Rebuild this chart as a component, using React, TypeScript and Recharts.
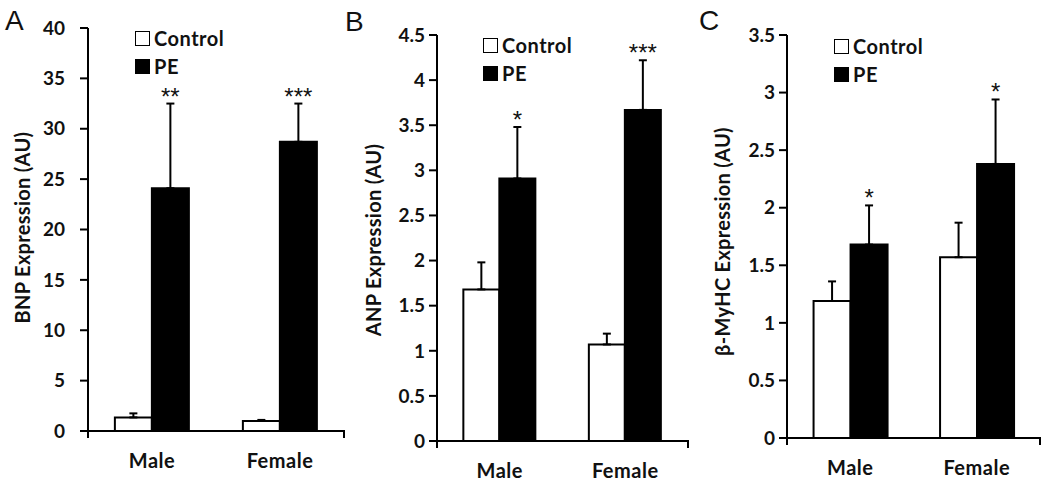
import React from "react";
import { BarChart, Bar, XAxis, YAxis, ErrorBar, LabelList, Legend, Label } from "recharts";

const categories = ["Male", "Female"];

// A: BNP
const bnpControl = [1.35, 1.0];
const bnpControlErr = [0.4, 0.1];
const bnpPE = [24.1, 28.7];
const bnpPEErr = [8.4, 3.8];
const bnpStars = ["**", "***"];
const bnpTicks = [0, 5, 10, 15, 20, 25, 30, 35, 40];

// B: ANP
const anpControl = [1.68, 1.07];
const anpControlErr = [0.3, 0.12];
const anpPE = [2.91, 3.67];
const anpPEErr = [0.57, 0.55];
const anpStars = ["*", "***"];
const anpTicks = [0, 0.5, 1, 1.5, 2, 2.5, 3, 3.5, 4, 4.5];

// C: beta-MyHC
const myhcControl = [1.19, 1.57];
const myhcControlErr = [0.17, 0.3];
const myhcPE = [1.68, 2.38];
const myhcPEErr = [0.34, 0.56];
const myhcStars = ["*", "*"];
const myhcTicks = [0, 0.5, 1, 1.5, 2, 2.5, 3, 3.5];

const FONT = "Lato, 'Open Sans', sans-serif";
const ARIAL = "'Liberation Sans', Arial, sans-serif";

function buildRows(ctl: number[], ctlErr: number[], pe: number[], peErr: number[], stars: string[]) {
  return categories.map((name, i) => ({
    name,
    control: ctl[i],
    controlErr: [0, ctlErr[i]],
    pe: pe[i],
    peErr: [0, peErr[i]],
    peErrVal: peErr[i],
    star: stars[i],
  }));
}

const CatTick = (props: any) => {
  const { x, y, payload, index, visibleTicksCount } = props;
  const off = payload?.offset ?? 0;
  return (
    <g>
      <text
        x={x}
        y={y + 37}
        textAnchor="middle"
        fontFamily={FONT}
        fontWeight={700}
        fontSize={20}
        letterSpacing={0.5}
        fill="#111"
      >
        {payload.value}
      </text>
      {index === 0 && <line x1={x - off} x2={x - off} y1={y - 1} y2={y + 7} stroke="#000" strokeWidth={2} />}
      {index === visibleTicksCount - 1 && (
        <line x1={x + off} x2={x + off} y1={y - 1} y2={y + 7} stroke="#000" strokeWidth={2} />
      )}
    </g>
  );
};

const LegendBox = (props: any) => {
  const items = props.payload || [];
  return (
    <div style={{ fontFamily: FONT, fontWeight: 700, fontSize: 20, letterSpacing: 0.5, color: "#111" }}>
      {items.map((it: any, i: number) => (
        <div key={i} style={{ display: "flex", alignItems: "center", height: 28 }}>
          <span
            style={{
              width: 13,
              height: 13,
              border: "1.5px solid #000",
              background: it.color,
              marginRight: 4,
              display: "inline-block",
            }}
          />
          <span>{it.value}</span>
        </div>
      ))}
    </div>
  );
};

type PanelProps = {
  left: number;
  margin: { top: number; right: number; bottom: number; left: number };
  domain: [number, number];
  ticks: number[];
  rows: ReturnType<typeof buildRows>;
  yLabel: string;
  labelDx: number;
  labelDy: number;
  tickMargin: number;
  legendLeft: number;
  legendTop: number;
};

function Panel(p: PanelProps) {
  const starContent = (lp: any) => {
    const { x, y, width, height, index } = lp;
    const row = p.rows[index];
    const pxPer = height / row.pe;
    const top = y - row.peErrVal * pxPer;
    return (
      <text x={x + width / 2} y={top + 1} textAnchor="middle" fontFamily={ARIAL} fontSize={24} fill="#111">
        {row.star}
      </text>
    );
  };
  return (
    <div style={{ position: "absolute", left: p.left, top: 0 }}>
      <BarChart
        width={350}
        height={490}
        data={p.rows}
        margin={p.margin}
        barCategoryGap="21%"
        barGap={0}
      >
        <XAxis
          dataKey="name"
          height={40}
          axisLine={{ stroke: "#000", strokeWidth: 2 }}
          tickLine={false}
          tickSize={0}
          tickMargin={0}
          tick={<CatTick />}
          interval={0}
        />
        <YAxis
          width={60}
          domain={p.domain}
          ticks={p.ticks}
          interval={0}
          allowDataOverflow
          axisLine={{ stroke: "#000", strokeWidth: 2 }}
          tickLine={{ stroke: "#000", strokeWidth: 2 }}
          tickSize={8}
          tickMargin={p.tickMargin}
          tick={{ fontFamily: FONT, fontWeight: 700, fontSize: 19, fill: "#111" }}
        >
          <Label
            content={(lp: any) => {
              const vb = lp.viewBox;
              const cx = vb.x + vb.width + p.labelDx;
              const cy = vb.y + vb.height / 2 + p.labelDy;
              return (
                <text
                  x={cx}
                  y={cy}
                  transform={`rotate(-90, ${cx}, ${cy})`}
                  textAnchor="middle"
                  dominantBaseline="central"
                  fontFamily={FONT}
                  fontWeight={700}
                  fontSize={20}
                  letterSpacing={0.3}
                  fill="#111"
                >
                  {p.yLabel}
                </text>
              );
            }}
          />
        </YAxis>
        <Legend
          layout="vertical"
          align="center"
          verticalAlign="middle"
          content={<LegendBox />}
          wrapperStyle={{ left: p.legendLeft, top: p.legendTop, width: "auto" }}
        />
        <Bar dataKey="control" name="Control" fill="#fff" stroke="#000" strokeWidth={2} isAnimationActive={false}>
          <ErrorBar dataKey="controlErr" direction="y" width={4} stroke="#000" strokeWidth={2} />
        </Bar>
        <Bar dataKey="pe" name="PE" fill="#000" stroke="#000" strokeWidth={2} isAnimationActive={false}>
          <ErrorBar dataKey="peErr" direction="y" width={4} stroke="#000" strokeWidth={2} />
          <LabelList dataKey="star" content={starContent} />
        </Bar>
      </BarChart>
    </div>
  );
}

export default function App() {
  return (
    <div style={{ position: "absolute", left: 0, top: 0, width: 1050, height: 490, background: "#fff", overflow: "hidden" }}>
      <Panel
        left={0}
        margin={{ top: 28, right: 6, bottom: 19, left: 28 }}
        domain={[0, 40]}
        ticks={bnpTicks}
        rows={buildRows(bnpControl, bnpControlErr, bnpPE, bnpPEErr, bnpStars)}
        yLabel="BNP Expression (AU)"
        labelDx={-66}
        labelDy={-2}
        tickMargin={15}
        legendLeft={135}
        legendTop={24}
      />
      <Panel
        left={350}
        margin={{ top: 35, right: 12, bottom: 9, left: 27 }}
        domain={[0, 4.5]}
        ticks={anpTicks}
        rows={buildRows(anpControl, anpControlErr, anpPE, anpPEErr, anpStars)}
        yLabel="ANP Expression (AU)"
        labelDx={-64}
        labelDy={2}
        tickMargin={4}
        legendLeft={133}
        legendTop={31}
      />
      <Panel
        left={700}
        margin={{ top: 35, right: 10, bottom: 12, left: 27 }}
        domain={[0, 3.5]}
        ticks={myhcTicks}
        rows={buildRows(myhcControl, myhcControlErr, myhcPE, myhcPEErr, myhcStars)}
        yLabel="β-MyHC Expression (AU)"
        labelDx={-65}
        labelDy={5}
        tickMargin={4}
        legendLeft={134}
        legendTop={32}
      />
      <svg width={1050} height={40} style={{ position: "absolute", left: 0, top: 0, pointerEvents: "none" }}>
        <text x={5} y={30} fontFamily={ARIAL} fontSize={28} fill="#111">A</text>
        <text x={345} y={31} fontFamily={ARIAL} fontSize={28} fill="#111">B</text>
        <text x={699} y={30} fontFamily={ARIAL} fontSize={28} fill="#111">C</text>
      </svg>
    </div>
  );
}
